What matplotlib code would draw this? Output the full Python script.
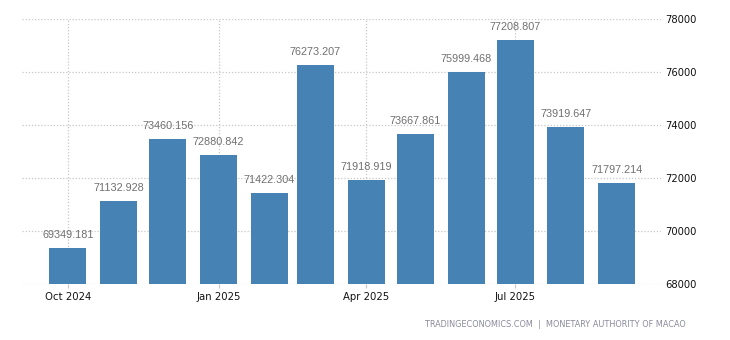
import matplotlib
matplotlib.use("Agg")
import matplotlib.pyplot as plt
import matplotlib.dates as mdates
import datetime as dt

months = ["2024-10", "2024-11", "2024-12", "2025-01", "2025-02", "2025-03",
          "2025-04", "2025-05", "2025-06", "2025-07", "2025-08", "2025-09"]
values = [69349.181, 71132.928, 73460.156, 72880.842, 71422.304, 76273.207,
          71918.919, 73667.861, 75999.468, 77208.807, 73919.647, 71797.214]
value_labels = ["69349.181", "71132.928", "73460.156", "72880.842", "71422.304", "76273.207",
                "71918.919", "73667.861", "75999.468", "77208.807", "73919.647", "71797.214"]
xtick_months = ["2024-10", "2025-01", "2025-04", "2025-07"]
xtick_labels = ["Oct 2024", "Jan 2025", "Apr 2025", "Jul 2025"]
yticks = [68000, 70000, 72000, 74000, 76000, 78000]

def to_date(s):
    y, m = s.split("-")
    return dt.date(int(y), int(m), 1)

dates = [mdates.date2num(to_date(m)) for m in months]
tick_pos = [mdates.date2num(to_date(m)) for m in xtick_months]

fig = plt.figure(figsize=(7.3, 3.4), dpi=100)
ax = fig.add_axes([0.0301, 0.1647, 0.8754, 0.7793])

ax.bar(dates, values, width=22.6, color="#4682B4", zorder=2)
for x, v, lab in zip(dates, values, value_labels):
    ax.text(x, v + 300, lab, ha="center", va="bottom", fontsize=7.8,
            family="Liberation Sans", color="#707070", zorder=3)

ax.set_ylim(68000, 78000)
ax.set_xlim(mdates.date2num(dt.date(2024, 9, 3)), mdates.date2num(dt.date(2025, 9, 28)))
ax.set_yticks(yticks)
ax.set_yticklabels([str(t) for t in yticks])
ax.yaxis.tick_right()
ax.set_xticks(tick_pos)
ax.set_xticklabels(xtick_labels)

ax.grid(True, axis="both", color="#c8c8c8", linestyle=(0, (1, 1.5)), linewidth=0.9, zorder=0)
for s in ax.spines.values():
    s.set_visible(False)
ax.tick_params(axis="y", length=0, pad=3, labelsize=7.2, labelcolor="#111111")
ax.tick_params(axis="x", length=3, color="#c8c8c8", pad=3, labelsize=7.3, labelcolor="#111111")

fig.text(0.940, 0.045, "TRADINGECONOMICS.COM  |  MONETARY AUTHORITY OF MACAO",
         ha="right", va="center", fontsize=5.9, color="#8a8a9a")

fig.savefig("out.png", dpi=100)
